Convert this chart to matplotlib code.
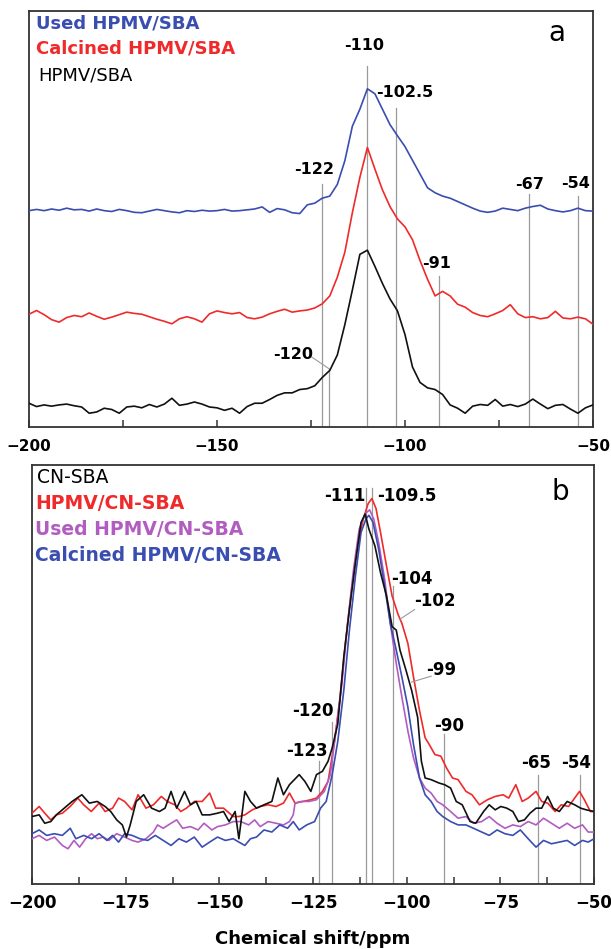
import matplotlib
matplotlib.use("Agg")
import matplotlib.pyplot as plt

plt.rcParams['font.family'] = ['DejaVu Sans']

# ---- panel a data (ppm grid, 2 ppm step) ----
ppm_a = list(range(-200, -49, 2))

used_a = [52.0, 52.3, 52.0, 52.4, 52.1, 52.6, 52.2, 52.3, 51.9, 52.4,
          52.0, 51.8, 52.3, 52.0, 51.6, 51.5, 51.9, 52.3, 52.0, 51.7,
          51.5, 52.0, 51.8, 52.1, 51.9, 52.0, 52.3, 51.9, 52.0, 52.2,
          52.4, 52.9, 51.6, 52.5, 52.2, 51.5, 51.3, 53.4, 53.8, 55.0,
          55.5, 58.3, 64.0, 72.3, 76.4, 81.3, 80.1, 76.4, 72.7, 70.0,
          67.4, 64.1, 60.8, 57.5, 56.3, 55.5, 55.0, 54.2, 53.4, 52.6,
          51.9, 51.6, 51.9, 52.6, 52.3, 52.0, 52.6, 53.0, 53.3, 52.4,
          52.0, 51.7, 52.0, 52.6, 52.0, 51.9]

calc_a = [27.1, 28.0, 27.0, 25.8, 25.2, 26.3, 26.8, 26.5, 27.4, 26.6,
          25.9, 26.4, 27.0, 27.6, 27.3, 27.1, 26.5, 25.9, 25.4, 24.8,
          26.0, 26.5, 26.0, 25.2, 27.2, 27.9, 27.5, 27.2, 27.5, 26.3,
          26.0, 26.4, 27.2, 27.8, 28.3, 27.6, 27.9, 28.1, 28.6, 29.6,
          31.5, 36.0, 42.0, 51.5, 60.0, 67.2, 62.0, 57.0, 53.0, 50.0,
          48.1, 45.0, 40.0, 35.5, 31.5, 32.6, 31.5, 29.5, 28.8, 27.5,
          26.8, 26.5, 27.2, 28.0, 29.4, 27.2, 26.3, 26.5, 26.0, 26.3,
          27.8, 26.2, 26.0, 26.4, 26.0, 24.7]

fresh_a = [5.7, 4.9, 5.3, 5.0, 5.3, 5.5, 5.1, 4.8, 3.3, 3.6,
           4.5, 4.2, 3.3, 4.8, 5.0, 4.6, 5.4, 4.8, 5.5, 6.9,
           5.2, 5.5, 6.0, 5.5, 4.8, 4.6, 4.0, 4.5, 3.3, 4.9,
           5.7, 5.7, 6.6, 7.6, 8.2, 8.2, 9.0, 9.2, 9.9, 11.9,
           13.6, 17.3, 24.6, 32.9, 41.5, 42.5, 38.6, 34.5, 30.8, 27.9,
           22.2, 14.4, 10.7, 9.4, 9.0, 7.8, 5.3, 4.5, 3.3, 5.0,
           5.4, 5.2, 6.6, 5.0, 5.4, 4.9, 5.5, 6.7, 5.5, 4.4,
           5.2, 5.4, 4.3, 3.3, 4.6, 5.3]

# peak marks: (position, line top, label, label x, label y)
marks_a = [(-122, 58.3, "-122", -124.3, 61.9),
           (-110, 86.7, "-110", -110.8, 91.6),
           (-102.5, 76.8, "-102.5", -100.0, 80.3),
           (-91, 36.2, "-91", -91.7, 39.4),
           (-67, 56.0, "-67", -66.8, 58.3),
           (-54, 55.5, "-54", -54.7, 58.6)]

# ---- panel b data (vertices) ----
cn_x = [-200.0, -198.1, -196.6, -195.0, -193.5, -191.4, -189.3, -186.7, -184.7, -182.6,
        -180.5, -179.0, -177.4, -175.9, -174.8, -173.8, -172.2, -170.2, -168.1, -166.0,
        -164.5, -162.9, -161.4, -159.3, -157.7, -156.2, -154.6, -152.6, -150.5, -148.9,
        -147.4, -145.8, -144.8, -143.2, -141.7, -140.1, -138.1, -136.0, -134.4, -132.9,
        -131.3, -128.7, -127.2, -125.6, -124.1, -122.5, -121.0, -119.9, -118.4, -116.8,
        -115.3, -113.7, -112.2, -111.1, -110.1, -108.5, -107.0, -105.4, -103.9, -102.8,
        -101.8, -100.2, -98.7, -97.1, -96.1, -95.1, -93.5, -91.4, -89.9, -88.3,
        -86.8, -85.2, -83.1, -81.6, -79.5, -78.0, -76.4, -74.9, -73.3, -71.7,
        -70.2, -68.6, -67.1, -65.5, -64.0, -62.4, -60.9, -59.3, -57.2, -55.2,
        -53.6, -52.1, -50.0]
cn_y = [16.1, 16.5, 14.5, 14.9, 16.5, 18.1, 19.7, 21.3, 19.3, 19.7,
        18.5, 17.3, 15.3, 14.1, 11.2, 14.1, 19.7, 21.3, 18.1, 17.3,
        18.1, 22.1, 18.1, 22.1, 18.9, 19.7, 16.5, 16.5, 16.9, 17.3,
        14.9, 17.3, 10.8, 22.1, 19.7, 18.1, 18.9, 19.7, 25.3, 21.3,
        23.7, 26.1, 24.5, 22.1, 26.1, 26.9, 29.3, 32.5, 38.2, 54.2,
        65.5, 76.7, 86.3, 88.3, 84.7, 80.7, 74.3, 68.7, 61.4, 60.6,
        55.8, 51.0, 46.2, 39.8, 29.3, 25.3, 24.9, 24.1, 23.7, 22.9,
        19.7, 18.9, 14.9, 14.5, 17.3, 18.9, 17.7, 18.5, 18.1, 17.3,
        14.9, 15.3, 16.9, 18.1, 18.1, 20.9, 18.1, 17.3, 19.7, 18.9,
        18.1, 17.7, 17.3]

hp_x = [-200.0, -198.1, -196.6, -195.0, -193.5, -191.9, -189.8, -187.8, -186.2, -184.2,
        -182.1, -180.5, -178.5, -176.9, -175.3, -173.3, -171.7, -169.6, -167.6, -165.5,
        -163.9, -161.9, -160.3, -158.8, -156.7, -154.6, -152.6, -151.0, -148.9, -146.3,
        -144.8, -143.2, -141.2, -139.1, -137.0, -134.9, -132.9, -131.3, -129.8, -127.7,
        -125.6, -124.1, -122.5, -121.0, -119.4, -117.8, -116.3, -114.7, -113.2, -111.6,
        -110.3, -109.3, -108.2, -107.0, -105.4, -103.9, -102.3, -101.3, -99.7, -98.2,
        -96.6, -95.1, -94.0, -92.5, -90.9, -89.4, -87.8, -86.3, -84.2, -82.6,
        -80.6, -78.5, -76.4, -74.3, -72.8, -70.9, -69.2, -67.6, -65.5, -64.0,
        -62.4, -60.4, -58.8, -56.8, -55.2, -53.9, -52.6, -51.0, -50.0]
hp_y = [16.9, 18.5, 16.9, 15.3, 16.5, 16.9, 18.5, 20.5, 18.9, 17.3,
        19.3, 17.3, 18.1, 20.5, 19.7, 17.7, 21.3, 18.1, 18.9, 20.9,
        19.7, 18.9, 17.3, 18.1, 19.7, 19.7, 21.7, 18.1, 18.1, 16.1,
        16.1, 16.5, 17.7, 18.5, 18.9, 18.5, 19.3, 21.7, 19.3, 19.7,
        20.1, 20.5, 22.1, 24.5, 33.3, 44.6, 58.2, 70.3, 80.7, 87.1,
        90.8, 92.0, 89.6, 83.9, 75.9, 68.7, 64.3, 62.2, 57.4, 49.4,
        41.4, 34.9, 33.3, 30.9, 30.5, 27.7, 25.3, 24.9, 22.1, 21.3,
        18.9, 20.1, 20.9, 21.3, 20.5, 23.7, 19.7, 20.5, 22.1, 19.7,
        19.3, 17.3, 18.9, 18.5, 20.5, 22.1, 20.1, 17.3, 17.3]

used_x = [-200.0, -198.1, -196.1, -194.0, -191.9, -190.4, -188.8, -187.3, -185.7, -184.1,
          -182.6, -181.0, -179.5, -177.4, -175.3, -173.3, -171.7, -169.6, -167.6, -166.5,
          -165.0, -162.9, -161.4, -159.8, -157.7, -155.7, -154.1, -152.0, -150.5, -148.4,
          -146.3, -144.3, -142.2, -140.6, -139.1, -137.0, -134.9, -132.9, -131.3, -130.3,
          -129.8, -128.2, -126.1, -124.1, -122.0, -120.4, -118.9, -117.3, -115.8, -114.2,
          -112.7, -111.1, -109.9, -108.8, -107.5, -105.9, -104.4, -102.8, -101.3, -99.7,
          -98.2, -96.6, -95.1, -93.5, -91.9, -90.4, -88.3, -86.3, -84.2, -82.2,
          -80.0, -78.0, -75.9, -73.8, -71.7, -69.7, -67.6, -65.5, -63.5, -61.4,
          -59.3, -57.2, -55.2, -53.1, -51.6, -50.0]
used_y = [10.8, 11.6, 10.4, 11.2, 9.2, 8.4, 10.4, 8.8, 10.8, 12.0,
          10.8, 11.2, 10.4, 12.0, 11.2, 10.4, 10.0, 10.8, 12.4, 14.1,
          13.3, 14.5, 15.3, 13.3, 13.7, 12.9, 14.5, 12.9, 13.7, 14.1,
          14.9, 14.9, 14.1, 15.3, 13.7, 14.9, 14.5, 14.1, 14.9, 16.5,
          19.3, 19.7, 19.7, 20.1, 22.1, 26.1, 36.5, 47.8, 62.2, 75.1,
          84.7, 88.4, 89.3, 87.1, 81.5, 72.7, 62.2, 52.6, 44.6, 36.5,
          30.1, 25.3, 22.9, 21.7, 19.7, 18.9, 17.3, 15.7, 16.1, 14.5,
          14.9, 16.1, 14.5, 13.3, 14.1, 13.7, 14.9, 14.1, 15.7, 14.5,
          13.3, 14.5, 13.3, 14.1, 12.4, 12.4]

calc_x = [-200.0, -198.1, -196.1, -194.0, -191.9, -189.8, -188.3, -186.2, -184.1, -182.1,
          -180.0, -178.5, -176.9, -175.3, -173.3, -171.2, -169.1, -167.1, -165.0, -162.9,
          -160.8, -158.8, -156.7, -154.6, -152.6, -150.5, -148.4, -146.3, -144.8, -143.2,
          -141.7, -140.1, -138.1, -136.0, -133.9, -131.8, -130.3, -128.7, -126.7, -124.6,
          -123.0, -121.5, -119.9, -118.4, -116.8, -115.3, -113.7, -112.2, -110.9, -110.1,
          -109.0, -107.5, -105.9, -104.4, -102.8, -101.3, -99.7, -98.2, -96.6, -95.1,
          -93.5, -91.9, -90.4, -88.3, -86.3, -84.2, -82.2, -80.0, -78.0, -75.9,
          -73.8, -71.7, -69.7, -67.6, -65.5, -63.5, -61.4, -59.3, -57.2, -55.2,
          -53.1, -51.6, -50.0]
calc_y = [12.0, 12.9, 11.6, 12.0, 11.6, 13.3, 10.8, 11.6, 10.8, 12.0,
          10.4, 11.6, 10.0, 12.0, 11.6, 10.8, 10.4, 11.6, 10.4, 9.2,
          10.8, 10.0, 11.2, 8.8, 10.0, 11.2, 10.4, 10.8, 10.0, 9.2,
          10.8, 11.2, 12.9, 12.4, 14.1, 13.3, 14.9, 12.9, 14.1, 14.9,
          18.1, 19.7, 26.1, 34.1, 46.2, 60.6, 73.5, 83.9, 87.1, 88.0,
          86.3, 79.9, 71.1, 62.2, 55.8, 49.4, 42.2, 33.3, 25.3, 21.3,
          19.7, 17.3, 16.1, 14.9, 14.1, 14.1, 13.3, 12.4, 11.6, 12.9,
          12.0, 11.6, 12.9, 10.8, 8.8, 10.4, 9.6, 10.0, 10.4, 9.2,
          10.4, 10.0, 10.8]

marks_b = [(-123.3, 29.3, "-123", -126.6, 31.7),
           (-120.0, 38.6, "-120", -125.1, 41.4),
           (-110.9, 94.4, "-111", -116.6, 92.7),
           (-109.2, 94.4, "-109.5", -100.0, 92.7),
           (-103.7, 71.1, "-104", -98.7, 72.9),
           (-90.1, 35.7, "-90", -88.8, 37.8),
           (-65.0, 26.1, "-65", -65.5, 28.9),
           (-53.8, 26.1, "-54", -54.9, 28.9)]

BLUE = '#3a4db0'
RED = '#f02a2a'
MAG = '#b25cc2'
BLK = '#111111'
GRAY = '#9a9a9a'
FRAME = '#333333'

fig = plt.figure(figsize=(6.11, 9.49), dpi=100)


def style(ax, major, minor, fs, pad):
    ax.set_xlim(-200, -50)
    ax.set_ylim(0, 100)
    ax.set_yticks([])
    ax.set_xticks(major)
    ax.set_xticks(minor, minor=True)
    ax.tick_params(axis='x', which='both', direction='in', length=5,
                   width=1.1, color=FRAME, labelsize=fs, pad=pad)
    for lab in ax.get_xticklabels():
        lab.set_fontweight('bold')
    for s in ax.spines.values():
        s.set_color(FRAME)
        s.set_linewidth(1.3)


# ---------- panel a ----------
ax1 = fig.add_axes([0.0475, 0.5501, 0.923, 0.4383])
for x, top, txt, tx, ty in marks_a:
    ax1.plot([x, x], [0, top], color=GRAY, lw=0.9, zorder=1)
    ax1.text(tx, ty, txt, ha='center', va='center', fontsize=11.5, fontweight='bold')
ax1.plot([-120.2, -120.2], [0, 14.0], color=GRAY, lw=0.9, zorder=1)
ax1.plot([-120.2, -124.8], [14.0, 16.8], color=GRAY, lw=0.8, zorder=1)
ax1.text(-129.8, 17.3, "-120", ha='center', va='center', fontsize=11.5, fontweight='bold')

ax1.plot(ppm_a, used_a, color=BLUE, lw=1.2, zorder=3)
ax1.plot(ppm_a, calc_a, color=RED, lw=1.2, zorder=3)
ax1.plot(ppm_a, fresh_a, color=BLK, lw=1.2, zorder=3)

ax1.text(0.012, 0.969, "Used HPMV/SBA", transform=ax1.transAxes, color=BLUE,
         fontsize=13, fontweight='bold', va='center')
ax1.text(0.012, 0.909, "Calcined HPMV/SBA", transform=ax1.transAxes, color=RED,
         fontsize=13, fontweight='bold', va='center')
ax1.text(0.016, 0.844, "HPMV/SBA", transform=ax1.transAxes, color='black',
         fontsize=13, va='center')
ax1.text(0.936, 0.947, "a", transform=ax1.transAxes, fontsize=20,
         ha='center', va='center')
style(ax1, [-200, -150, -100, -50], [-175, -125, -75], 11, 9)

# ---------- panel b ----------
ax2 = fig.add_axes([0.0524, 0.0685, 0.920, 0.4415])
for x, top, txt, tx, ty in marks_b:
    ax2.plot([x, x], [0, top], color=GRAY, lw=0.9, zorder=1)
    ax2.text(tx, ty, txt, ha='center', va='center', fontsize=12, fontweight='bold')
ax2.plot([-102.0, -97.9], [63.1, 65.5], color=GRAY, lw=0.8, zorder=4)
ax2.text(-92.5, 67.5, "-102", ha='center', va='center', fontsize=12, fontweight='bold')
ax2.plot([-98.7, -93.5], [48.2, 49.6], color=GRAY, lw=0.8, zorder=4)
ax2.text(-90.9, 51.0, "-99", ha='center', va='center', fontsize=12, fontweight='bold')

ax2.plot(hp_x, hp_y, color=RED, lw=1.2, zorder=3)
ax2.plot(used_x, used_y, color=MAG, lw=1.2, zorder=3)
ax2.plot(calc_x, calc_y, color=BLUE, lw=1.2, zorder=3)
ax2.plot(cn_x, cn_y, color=BLK, lw=1.2, zorder=3)

ax2.text(0.008, 0.971, "CN-SBA", transform=ax2.transAxes, color='black',
         fontsize=13.5, va='center')
ax2.text(0.006, 0.909, "HPMV/CN-SBA", transform=ax2.transAxes, color=RED,
         fontsize=13.5, fontweight='bold', va='center')
ax2.text(0.006, 0.845, "Used HPMV/CN-SBA", transform=ax2.transAxes, color=MAG,
         fontsize=13.5, fontweight='bold', va='center')
ax2.text(0.006, 0.785, "Calcined HPMV/CN-SBA", transform=ax2.transAxes, color=BLUE,
         fontsize=13.5, fontweight='bold', va='center')
ax2.text(0.94, 0.935, "b", transform=ax2.transAxes, fontsize=20,
         ha='center', va='center')
style(ax2, [-200, -175, -150, -125, -100, -75, -50],
      [-187.5, -162.5, -137.5, -112.5, -87.5, -62.5], 12, 7)

fig.text(0.512, 0.0105, "Chemical shift/ppm", ha='center', va='center',
         fontsize=13, fontweight='bold')

fig.savefig("out.png", dpi=100)
